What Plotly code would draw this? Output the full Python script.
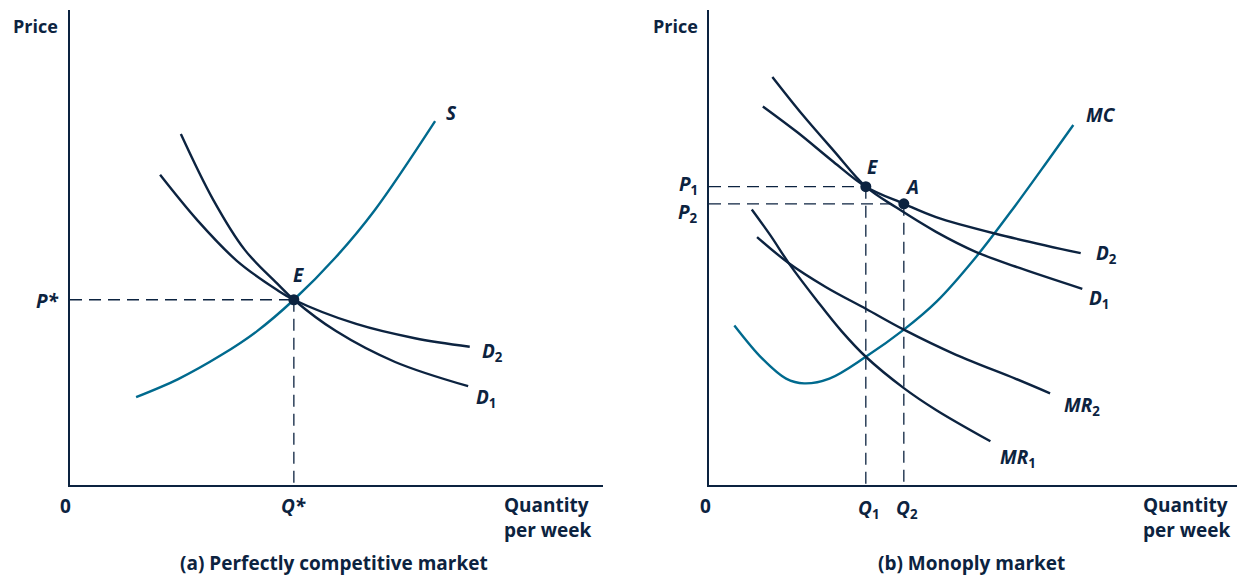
import plotly.graph_objects as go

W, H = 1238, 577
NAVY = "#0c2340"
TEAL = "#006a8e"
FONT = "Open Sans"

# ---------------- Panel (a): perfectly competitive market ----------------
s_q = [12.4, 20.3, 28.3, 35.1, 42.0, 49.9, 57.2, 68.5]
s_p = [18.5, 22.3, 27.3, 32.4, 39.0, 48.0, 57.9, 76.6]
d1a_q = [20.8, 26.8, 32.8, 38.8, 42.0, 49.9, 61.0, 74.7]
d1a_p = [73.9, 60.2, 49.5, 42.5, 39.0, 32.4, 25.9, 20.8]
d2a_q = [16.9, 24.0, 31.3, 38.8, 42.0, 53.7, 64.7, 75.0]
d2a_p = [65.3, 55.6, 47.2, 41.1, 39.0, 33.9, 30.9, 29.1]
q_star, p_star = 42.0, 39.0

# ---------------- Panel (b): monopoly market ----------------
mc_q = [4.8, 10.1, 14.6, 18.0, 22.8, 29.7, 36.9, 43.1, 50.5, 58.0, 64.0, 69.0]
mc_p = [33.6, 26.6, 22.4, 21.4, 22.4, 27.0, 32.7, 38.6, 47.9, 58.8, 68.0, 75.8]
d1b_q = [12.0, 17.6, 23.6, 29.7, 35.5, 43.0, 50.5, 58.0, 70.7]
d1b_p = [85.9, 78.1, 70.4, 62.8, 58.4, 53.3, 49.1, 46.0, 41.3]
d2b_q = [10.2, 16.8, 23.6, 29.7, 36.9, 43.0, 54.3, 70.4]
d2b_p = [79.7, 74.2, 68.0, 62.8, 59.2, 56.4, 52.9, 48.8]
mr1_q = [8.1, 11.6, 15.3, 20.6, 25.1, 29.7, 36.9, 43.0, 53.3]
mr1_p = [58.0, 52.6, 46.4, 38.6, 32.4, 27.0, 20.4, 15.8, 9.2]
mr2_q = [9.1, 15.0, 22.1, 29.7, 36.9, 46.8, 58.0, 64.6]
mr2_p = [52.2, 46.8, 41.7, 37.1, 32.7, 27.4, 22.4, 19.3]
q1, p1 = 29.7, 62.8
q2, p2 = 36.9, 59.2

fig = go.Figure()

def curve(x, y, color, xa, ya):
    fig.add_trace(go.Scatter(x=x, y=y, mode="lines", xaxis=xa, yaxis=ya,
                             line=dict(color=color, width=2.4, shape="spline", smoothing=1.0),
                             hoverinfo="skip", showlegend=False))

def dashed(x, y, xa, ya):
    fig.add_trace(go.Scatter(x=x, y=y, mode="lines", xaxis=xa, yaxis=ya,
                             line=dict(color=NAVY, width=1.3, dash="12px,7px"),
                             hoverinfo="skip", showlegend=False))

def dot(x, y, xa, ya):
    fig.add_trace(go.Scatter(x=[x], y=[y], mode="markers", xaxis=xa, yaxis=ya,
                             marker=dict(color=NAVY, size=11),
                             hoverinfo="skip", showlegend=False))

# Panel (a)
dashed([0, q_star], [p_star, p_star], "x", "y")
dashed([q_star, q_star], [p_star, 0], "x", "y")
curve(s_q, s_p, TEAL, "x", "y")
curve(d1a_q, d1a_p, NAVY, "x", "y")
curve(d2a_q, d2a_p, NAVY, "x", "y")
dot(q_star, p_star, "x", "y")

# Panel (b)
dashed([0, q1], [p1, p1], "x2", "y2")
dashed([0, q2], [p2, p2], "x2", "y2")
dashed([q1, q1], [p1, 0], "x2", "y2")
dashed([q2, q2], [p2, 0], "x2", "y2")
curve(mc_q, mc_p, TEAL, "x2", "y2")
curve(d1b_q, d1b_p, NAVY, "x2", "y2")
curve(d2b_q, d2b_p, NAVY, "x2", "y2")
curve(mr1_q, mr1_p, NAVY, "x2", "y2")
curve(mr2_q, mr2_p, NAVY, "x2", "y2")
dot(q1, p1, "x2", "y2")
dot(q2, p2, "x2", "y2")

ax_common = dict(range=[0, 100], showgrid=False, zeroline=False, showticklabels=False,
                 ticks="", showline=True, linecolor=NAVY, linewidth=1.6, fixedrange=True)
ydom = [(H - 485) / H, (H - 10) / H]

fig.update_layout(
    width=W, height=H, margin=dict(l=0, r=0, t=0, b=0),
    paper_bgcolor="white", plot_bgcolor="white",
    xaxis=dict(domain=[70 / W, 603 / W], anchor="y", **ax_common),
    yaxis=dict(domain=ydom, anchor="x", **ax_common),
    xaxis2=dict(domain=[709 / W, 1237 / W], anchor="y2", **ax_common),
    yaxis2=dict(domain=ydom, anchor="x2", **ax_common),
    font=dict(family=FONT, color=NAVY, size=19),
)

def label(text, x, y, size=19, xanchor="center", align="center"):
    fig.add_annotation(text=text, x=x / W, y=1 - y / H, xref="paper", yref="paper",
                       showarrow=False, xanchor=xanchor, yanchor="middle", align=align,
                       borderpad=0,
                       font=dict(family=FONT, size=size, color=NAVY, weight="bold"))

# Panel (a) labels
label("Price", 35, 26, size=18)
label("0", 65, 506)
label("<i>Q*</i>", 293, 506)
label("<i>P*</i>", 47, 301)
label("<i>E</i>", 298, 275)
label("<i>S</i>", 451, 113)
label("<i>D</i><sub>2</sub>", 492, 352)
label("<i>D</i><sub>1</sub>", 486, 398)
label("Quantity<br>per week", 503, 517, xanchor="left", align="left")
label("(a) Perfectly competitive market", 334, 563)

# Panel (b) labels
label("Price", 675, 26, size=18)
label("0", 705, 506)
label("<i>Q</i><sub>1</sub>", 868, 509)
label("<i>Q</i><sub>2</sub>", 907, 509)
label("<i>P</i><sub>1</sub>", 688, 185)
label("<i>P</i><sub>2</sub>", 688, 213)
label("<i>E</i>", 872, 167)
label("<i>A</i>", 912, 187)
label("<i>MC</i>", 1101, 115)
label("<i>D</i><sub>2</sub>", 1106, 254)
label("<i>D</i><sub>1</sub>", 1099, 299)
label("<i>MR</i><sub>2</sub>", 1082, 406)
label("<i>MR</i><sub>1</sub>", 1018, 458)
label("Quantity<br>per week", 1142, 517, xanchor="left", align="left")
label("(b) Monoply market", 972, 563)

fig.write_html("out.html", config={"displayModeBar": False},
               post_script="document.body.style.margin='0';document.body.style.overflow='hidden';")
